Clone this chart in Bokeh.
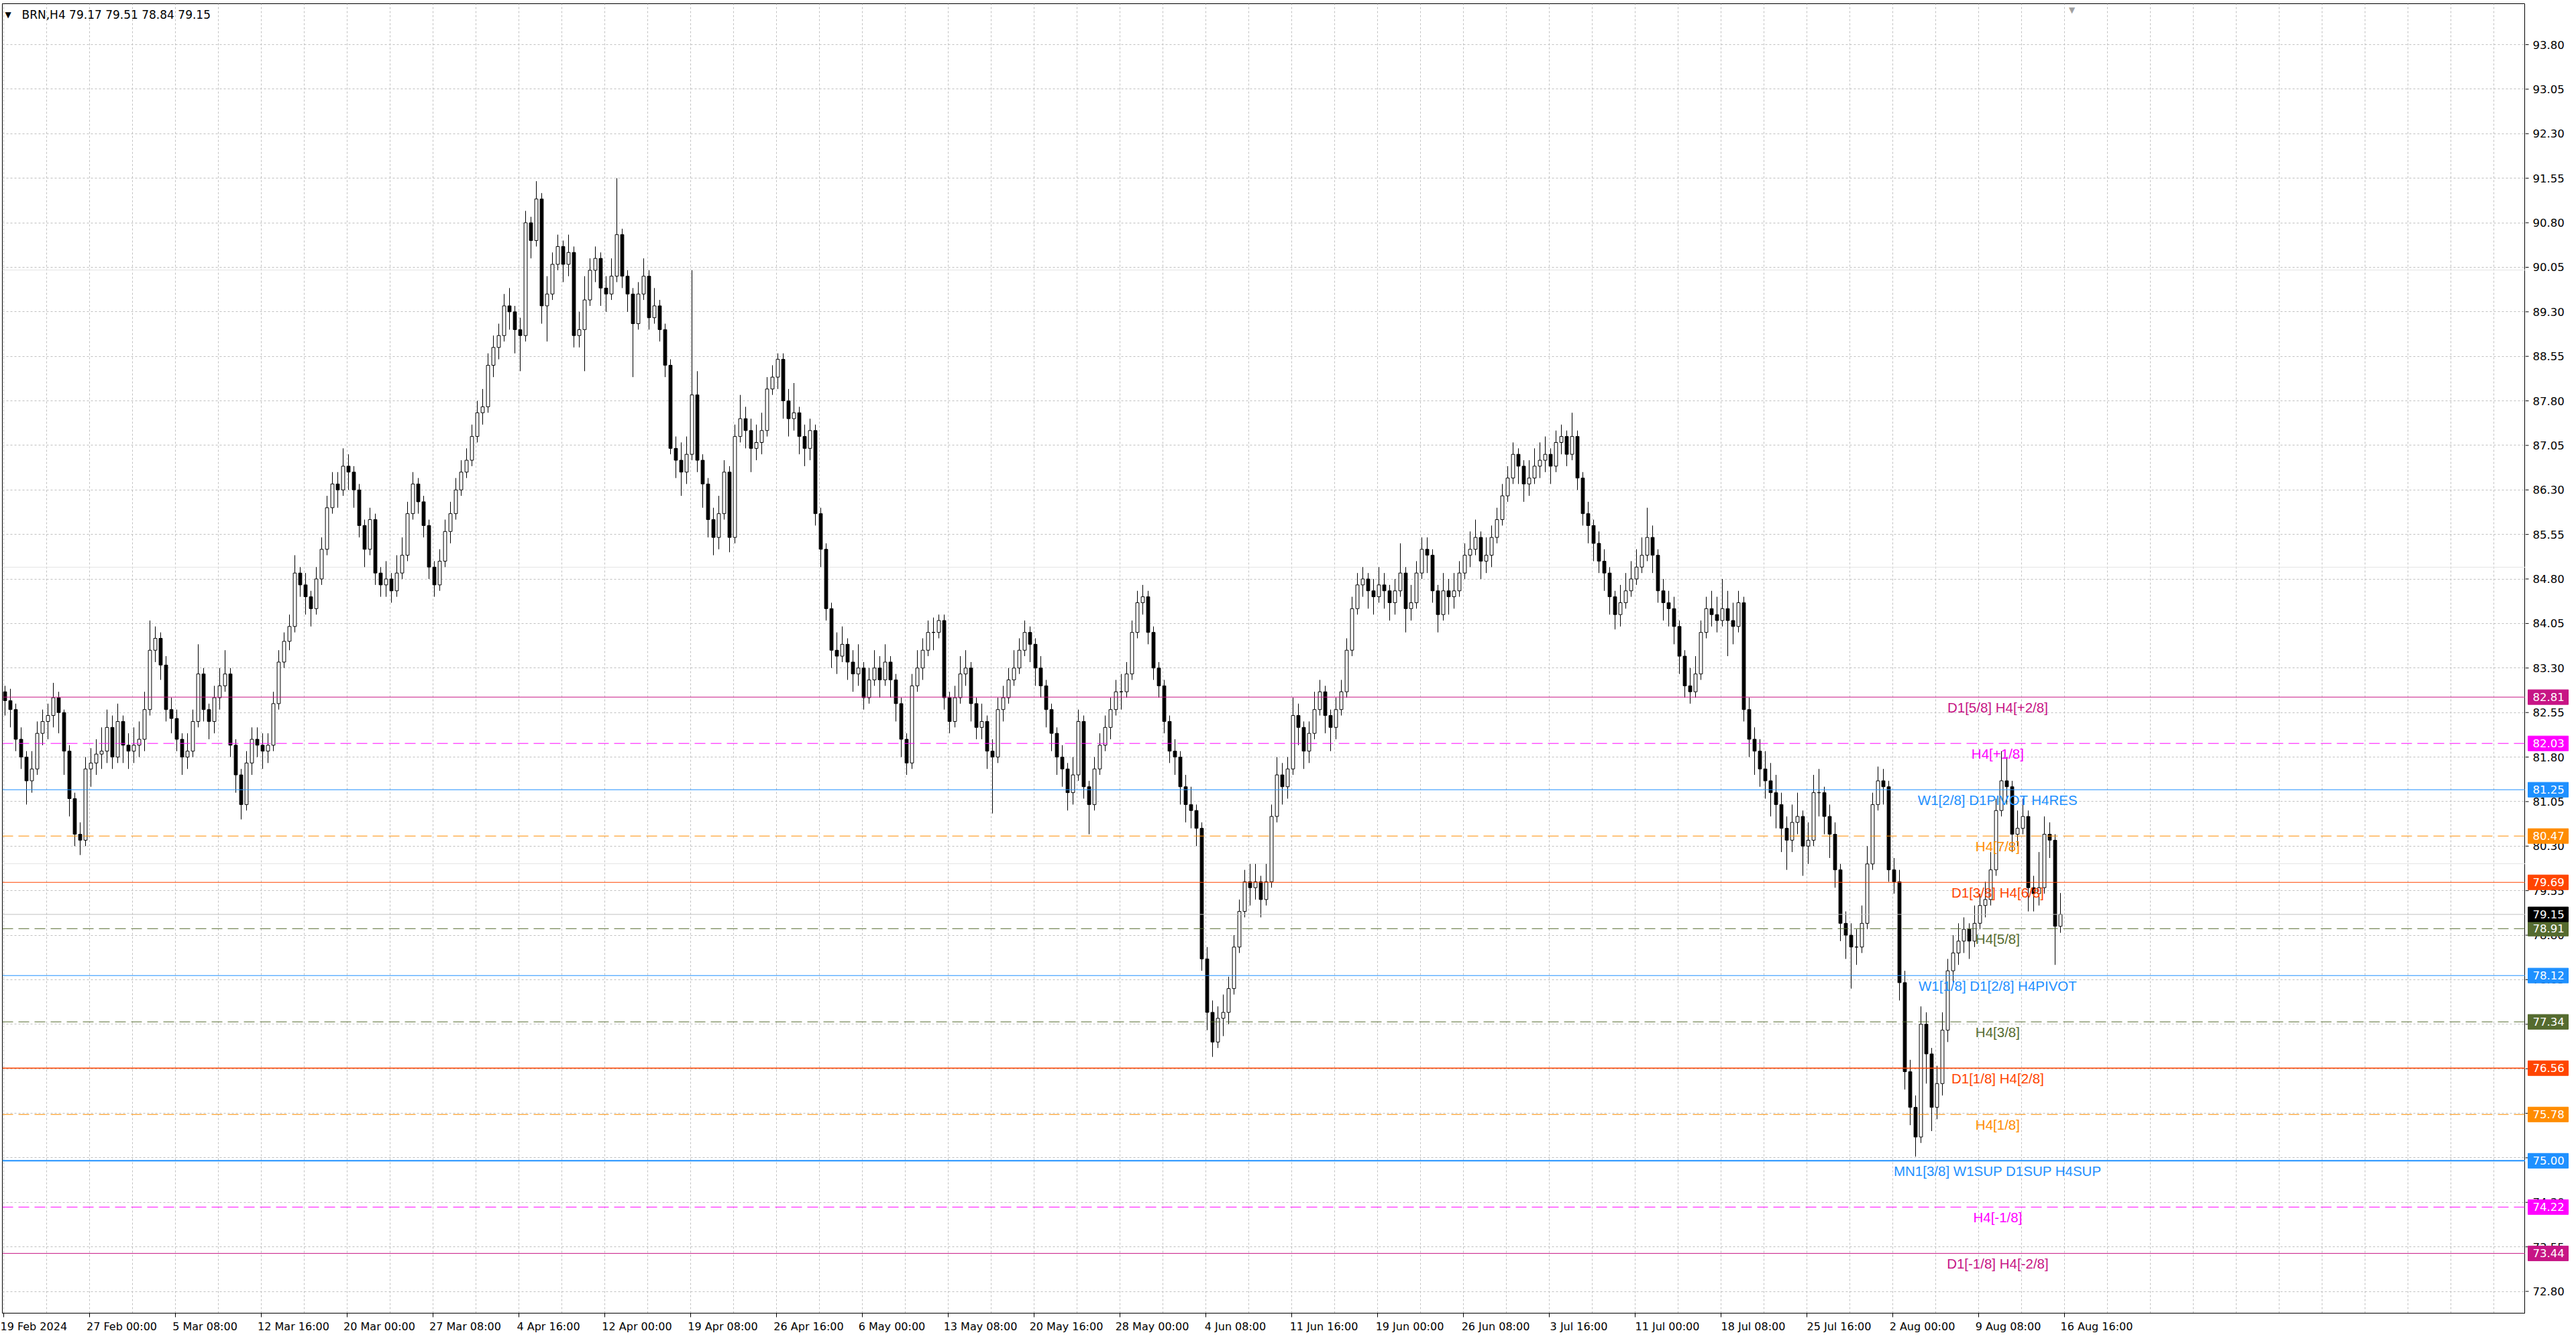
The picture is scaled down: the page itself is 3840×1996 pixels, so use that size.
from bokeh.plotting import figure
from bokeh.layouts import row
from bokeh.models import ColumnDataSource, FixedTicker, Span, Label, Range1d, Grid
from bokeh.core.properties import value
from bokeh.embed import file_html
from bokeh.resources import INLINE

# ---------------- data (BRN, H4, one candle = 2 H4 bars) ----------------
first_open = 83.0
close = [
 82.9, 82.75, 82.6, 82.1, 81.8, 81.4, 81.6, 82.2, 82.4, 82.5,
 82.8, 82.55, 81.9, 81.1, 80.5, 80.4, 81.6, 81.7, 81.85, 81.9,
 82.3, 81.8, 82.4, 82.0, 81.9, 82.0, 82.1, 82.6, 83.6, 83.8,
 83.35, 82.6, 82.45, 82.1, 81.8, 81.9, 82.4, 83.2, 82.6, 82.4,
 82.8, 83.0, 83.2, 82.0, 81.5, 81.0, 81.7, 82.1, 82.0, 81.9,
 82.0, 82.7, 83.4, 83.75, 84.0, 84.9, 84.7, 84.5, 84.3, 84.8,
 85.3, 86.0, 86.4, 86.3, 86.7, 86.6, 86.3, 85.7, 85.3, 85.8,
 84.9, 84.7, 84.8, 84.6, 84.9, 85.2, 85.9, 86.4, 86.1, 85.7,
 85.0, 84.7, 85.1, 85.6, 85.9, 86.3, 86.6, 86.8, 87.2, 87.6,
 87.7, 88.4, 88.7, 88.9, 89.4, 89.3, 89.0, 88.9, 90.8, 90.5,
 91.2, 89.4, 89.6, 90.1, 90.4, 90.1, 90.3, 88.9, 89.0, 89.5,
 90.0, 90.2, 89.7, 89.6, 89.9, 90.6, 89.9, 89.6, 89.1, 89.6,
 89.9, 89.2, 89.4, 89.0, 88.4, 87.0, 86.8, 86.6, 86.9, 87.9,
 86.8, 86.4, 85.8, 85.5, 85.9, 86.6, 85.5, 87.2, 87.5, 87.3,
 87.0, 87.1, 87.3, 88.0, 88.2, 88.5, 87.8, 87.5, 87.6, 87.2,
 87.0, 87.3, 85.9, 85.3, 84.3, 83.6, 83.5, 83.7, 83.4, 83.2,
 83.3, 82.8, 83.1, 83.3, 83.1, 83.4, 83.1, 82.7, 82.1, 81.7,
 83.0, 83.3, 83.6, 83.9, 83.9, 84.1, 82.8, 82.4, 82.8, 83.2,
 83.3, 82.7, 82.3, 82.4, 81.9, 81.8, 82.6, 82.8, 83.1, 83.3,
 83.6, 83.9, 83.7, 83.3, 83.0, 82.6, 82.2, 81.8, 81.6, 81.2,
 81.5, 82.4, 81.3, 81.0, 81.6, 82.0, 82.3, 82.6, 82.9, 82.9,
 83.2, 83.9, 84.4, 84.5, 83.9, 83.3, 83.0, 82.4, 81.9, 81.8,
 81.3, 81.0, 80.9, 80.6, 78.4, 77.5, 77.0, 77.4, 77.5, 77.9,
 78.6, 79.2, 79.7, 79.6, 79.7, 79.4, 79.7, 80.8, 81.5, 81.3,
 81.6, 82.5, 82.3, 81.9, 82.2, 82.6, 82.9, 82.5, 82.3, 82.6,
 82.9, 83.6, 84.3, 84.7, 84.8, 84.6, 84.5, 84.7, 84.6, 84.4,
 84.6, 84.9, 84.3, 84.4, 84.9, 85.3, 85.2, 84.6, 84.2, 84.6,
 84.5, 84.6, 84.9, 85.2, 85.3, 85.5, 85.1, 85.2, 85.5, 85.8,
 86.2, 86.5, 86.9, 86.7, 86.4, 86.5, 86.7, 86.8, 86.9, 86.7,
 87.1, 87.2, 86.9, 87.2, 86.5, 85.9, 85.7, 85.4, 85.1, 84.9,
 84.5, 84.2, 84.4, 84.6, 84.8, 85.0, 85.2, 85.5, 85.2, 84.6,
 84.4, 84.3, 84.0, 83.5, 83.0, 82.9, 83.2, 83.9, 84.3, 84.2,
 84.1, 84.3, 84.1, 84.0, 84.4, 82.6, 82.1, 81.9, 81.6, 81.4,
 81.2, 81.0, 80.6, 80.4, 80.7, 80.8, 80.3, 80.4, 81.2, 81.2,
 80.8, 80.5, 79.9, 79.0, 78.8, 78.6, 78.6, 79.0, 80.0, 81.0,
 81.4, 81.3, 79.9, 79.7, 78.0, 76.5, 75.9, 75.4, 77.3, 76.8,
 75.9, 76.3, 77.2, 78.2, 78.5, 78.7, 78.9, 78.7, 79.0, 79.3,
 79.4, 79.9, 80.9, 81.4, 81.3, 80.5, 80.6, 80.8, 79.6, 79.5,
 79.6, 80.5, 80.4, 78.95, 79.15,
]
high = [
 83.2, 83.0, 82.95, 82.7, 82.3, 81.9, 81.9, 82.4, 82.6, 82.7,
 83.05, 82.9, 82.6, 82.0, 81.2, 80.7, 81.8, 81.95, 82.1, 82.3,
 82.6, 82.5, 82.7, 82.5, 82.2, 82.3, 82.4, 82.9, 84.1, 84.0,
 83.9, 83.5, 82.8, 82.6, 82.2, 82.2, 82.6, 83.7, 83.3, 82.7,
 83.0, 83.3, 83.6, 83.3, 82.1, 81.6, 81.9, 82.3, 82.3, 82.2,
 82.2, 82.9, 83.6, 83.9, 84.2, 85.2, 85.0, 84.9, 84.6, 85.0,
 85.5, 86.2, 86.6, 86.6, 87.0, 86.9, 86.7, 86.4, 85.8, 86.0,
 85.9, 85.0, 85.1, 84.9, 85.2, 85.5, 86.1, 86.6, 86.5, 86.2,
 85.8, 85.1, 85.3, 85.8, 86.1, 86.5, 86.8, 87.0, 87.4, 87.8,
 88.0, 88.6, 88.9, 89.1, 89.6, 89.7, 89.4, 89.2, 91.0, 90.9,
 91.5, 91.3, 89.9, 90.3, 90.6, 90.5, 90.6, 90.4, 89.3, 89.9,
 90.2, 90.4, 90.3, 89.9, 90.2, 91.55, 90.7, 90.0, 89.7, 89.8,
 90.2, 90.0, 89.7, 89.5, 89.1, 88.5, 87.2, 87.1, 87.2, 90.0,
 88.3, 86.9, 86.5, 86.0, 86.2, 86.8, 86.7, 87.4, 87.9, 87.7,
 87.5, 87.4, 87.6, 88.2, 88.4, 88.6, 88.6, 88.0, 88.1, 87.7,
 87.4, 87.5, 87.4, 86.0, 85.4, 84.4, 83.9, 84.0, 83.8, 83.6,
 83.7, 83.4, 83.3, 83.6, 83.5, 83.7, 83.5, 83.2, 82.8, 82.2,
 83.2, 83.6, 83.8, 84.1, 84.15, 84.2, 84.2, 82.9, 83.0, 83.5,
 83.6, 83.4, 82.8, 82.7, 82.5, 82.1, 82.8, 83.0, 83.3, 83.6,
 83.8, 84.1, 84.0, 83.8, 83.5, 83.1, 82.7, 82.3, 82.0, 81.7,
 81.8, 82.6, 82.5, 81.4, 81.8, 82.2, 82.5, 82.8, 83.1, 83.2,
 83.4, 84.1, 84.6, 84.7, 84.6, 84.0, 83.4, 83.1, 82.5, 82.1,
 81.9, 81.5, 81.3, 81.0, 80.7, 78.6, 77.7, 77.6, 77.8, 78.1,
 78.8, 79.4, 79.9, 80.0, 80.0, 79.8, 80.0, 81.0, 81.8, 81.7,
 81.8, 82.8, 82.7, 82.4, 82.4, 82.9, 83.1, 83.0, 82.6, 82.8,
 83.1, 83.8, 84.5, 84.9, 85.0, 84.9, 84.8, 85.0, 84.9, 84.7,
 84.8, 85.4, 85.0, 84.7, 85.1, 85.5, 85.5, 85.3, 84.7, 84.9,
 84.8, 84.9, 85.1, 85.4, 85.6, 85.8, 85.6, 85.5, 85.7, 86.0,
 86.4, 86.7, 87.1, 87.0, 86.8, 86.8, 87.0, 87.1, 87.2, 87.0,
 87.3, 87.4, 87.3, 87.6, 87.3, 86.6, 86.1, 85.8, 85.6, 85.3,
 85.0, 84.6, 84.7, 84.9, 85.1, 85.3, 85.5, 86.0, 85.7, 85.3,
 84.8, 84.6, 84.5, 84.1, 83.6, 83.3, 83.5, 84.1, 84.5, 84.6,
 84.5, 84.8, 84.6, 84.4, 84.6, 84.5, 82.8, 82.3, 82.1, 81.9,
 81.7, 81.5, 81.2, 80.8, 81.0, 81.2, 80.9, 80.7, 81.5, 81.6,
 81.3, 81.0, 80.7, 80.0, 79.2, 79.0, 78.9, 79.3, 80.3, 81.2,
 81.64, 81.6, 81.4, 80.1, 79.9, 78.2, 76.7, 76.1, 77.6, 77.5,
 76.9, 76.6, 77.5, 78.4, 78.8, 79.0, 79.1, 79.0, 79.3, 79.5,
 79.7, 80.2, 81.1, 81.9, 81.8, 81.4, 80.9, 81.1, 80.9, 79.8,
 80.2, 80.8, 80.7, 80.5, 79.51,
]
low = [
 82.7, 82.5, 82.3, 81.9, 81.6, 81.0, 81.2, 81.5, 82.0, 82.1,
 82.3, 82.2, 81.5, 80.8, 80.3, 80.15, 80.3, 81.3, 81.5, 81.6,
 81.7, 81.6, 81.7, 81.7, 81.6, 81.7, 81.8, 81.9, 82.5, 83.4,
 83.1, 82.4, 82.2, 81.9, 81.5, 81.6, 81.8, 82.3, 82.4, 82.1,
 82.2, 82.6, 82.9, 81.8, 81.2, 80.75, 80.9, 81.5, 81.8, 81.6,
 81.7, 81.9, 82.6, 83.3, 83.6, 83.9, 84.5, 84.2, 84.0, 84.2,
 84.7, 85.2, 85.9, 86.0, 86.2, 86.3, 86.0, 85.5, 85.0, 85.2,
 84.7, 84.5, 84.5, 84.4, 84.5, 84.8, 85.1, 85.8, 85.9, 85.5,
 84.8, 84.5, 84.6, 85.0, 85.4, 85.8, 86.2, 86.5, 86.7, 87.1,
 87.4, 87.6, 88.2, 88.5, 88.8, 89.0, 88.6, 88.3, 88.8, 90.2,
 90.4, 89.1, 88.8, 89.5, 90.0, 89.8, 89.9, 88.7, 88.7, 88.3,
 89.4, 89.8, 89.4, 89.3, 89.5, 89.8, 89.7, 89.3, 88.2, 89.0,
 89.5, 89.0, 89.1, 88.8, 88.2, 86.9, 86.5, 86.2, 86.4, 86.8,
 86.6, 86.0, 85.5, 85.2, 85.3, 85.8, 85.25, 85.4, 87.1, 87.0,
 86.6, 86.8, 86.9, 87.2, 87.9, 88.0, 87.5, 87.2, 87.3, 86.9,
 86.7, 86.8, 85.7, 85.0, 84.1, 83.3, 83.2, 83.4, 83.1, 82.9,
 83.0, 82.6, 82.7, 83.0, 82.8, 83.0, 82.8, 82.4, 81.8, 81.5,
 81.6, 82.9, 83.1, 83.5, 83.6, 83.8, 82.6, 82.2, 82.3, 82.7,
 83.0, 82.4, 82.1, 82.1, 81.6, 80.85, 81.7, 82.4, 82.7, 83.0,
 83.2, 83.5, 83.4, 83.0, 82.8, 82.3, 81.9, 81.5, 81.3, 80.9,
 81.0, 81.4, 81.1, 80.5, 80.9, 81.5, 81.9, 82.1, 82.5, 82.6,
 82.8, 83.1, 83.8, 84.2, 83.7, 83.1, 82.8, 82.2, 81.7, 81.5,
 81.0, 80.7, 80.6, 80.3, 78.2, 77.2, 76.75, 76.9, 77.1, 77.3,
 77.8, 78.5, 79.1, 79.3, 79.4, 79.1, 79.3, 79.6, 80.7, 81.0,
 81.1, 81.5, 82.0, 81.6, 81.7, 82.1, 82.5, 82.2, 81.9, 82.1,
 82.5, 82.8, 83.5, 84.2, 84.5, 84.3, 84.2, 84.4, 84.3, 84.1,
 84.2, 84.5, 83.9, 84.1, 84.3, 84.8, 84.9, 84.4, 83.9, 84.1,
 84.2, 84.3, 84.5, 84.8, 85.0, 85.2, 84.8, 84.9, 85.0, 85.4,
 85.7, 86.1, 86.4, 86.4, 86.1, 86.2, 86.4, 86.5, 86.6, 86.4,
 86.6, 86.9, 86.7, 86.8, 86.3, 85.7, 85.4, 85.1, 84.9, 84.6,
 84.2, 83.95, 84.0, 84.3, 84.5, 84.7, 84.9, 85.1, 84.9, 84.4,
 84.1, 84.0, 83.7, 83.2, 82.8, 82.7, 82.8, 83.1, 83.8, 84.0,
 83.9, 84.0, 83.5, 83.7, 83.9, 82.4, 81.8, 81.5, 81.3, 81.1,
 80.8, 80.6, 80.2, 79.9, 80.2, 80.5, 79.8, 80.0, 80.3, 80.8,
 80.5, 80.1, 79.6, 78.7, 78.4, 77.9, 78.3, 78.5, 78.9, 79.9,
 80.9, 81.0, 79.7, 79.5, 77.7, 76.2, 75.6, 75.07, 75.3, 76.3,
 75.5, 75.7, 76.1, 77.0, 78.0, 78.3, 78.5, 78.4, 78.6, 78.9,
 79.1, 79.3, 79.8, 80.8, 81.0, 80.2, 80.3, 80.5, 79.2, 79.2,
 79.3, 79.5, 80.1, 78.3, 78.84,
]

date_labels = ["19 Feb 2024", "27 Feb 00:00", "5 Mar 08:00", "12 Mar 16:00", "20 Mar 00:00",
               "27 Mar 08:00", "4 Apr 16:00", "12 Apr 00:00", "19 Apr 08:00", "26 Apr 16:00",
               "6 May 00:00", "13 May 08:00", "20 May 16:00", "28 May 00:00", "4 Jun 08:00",
               "11 Jun 16:00", "19 Jun 00:00", "26 Jun 08:00", "3 Jul 16:00", "11 Jul 00:00",
               "18 Jul 08:00", "25 Jul 16:00", "2 Aug 00:00", "9 Aug 08:00", "16 Aug 16:00"]

levels = [82.81, 82.03, 81.25, 80.47, 79.69, 78.91, 78.12, 77.34, 76.56, 75.78, 75.00, 74.22, 73.44]
level_names = ["D1[5/8] H4[+2/8]", "H4[+1/8]", "W1[2/8] D1PIVOT H4RES", "H4[7/8]",
               "D1[3/8] H4[6/8]", "H4[5/8]", "W1[1/8] D1[2/8] H4PIVOT", "H4[3/8]",
               "D1[1/8] H4[2/8]", "H4[1/8]", "MN1[3/8] W1SUP D1SUP H4SUP", "H4[-1/8]",
               "D1[-1/8] H4[-2/8]"]
level_colors = ["#C71585", "#FF00FF", "#1E90FF", "#FF8C00", "#FF4500", "#556B2F", "#1E90FF",
                "#556B2F", "#FF4500", "#FF8C00", "#1E90FF", "#FF00FF", "#C71585"]
level_dashed = [False, True, False, True, False, True, False, True, False, True, False, True, False]
level_width = [1, 1, 1, 1, 1, 1, 1, 1, 1.5, 1, 2, 1, 1]

last_price = 79.15
header = "BRN,H4  79.17 79.51 78.84 79.15"
y_ticks = [round(72.80 + 0.75 * i, 2) for i in range(29)]

# ---------------- main chart ----------------
n = min(len(close), len(high), len(low))
close, high, low = close[:n], high[:n], low[:n]
opn = [first_open] + close[:-1]
xs = list(range(n))
up = [c >= o for o, c in zip(opn, close)]
src = ColumnDataSource(dict(
    x=xs, top=[max(o, c) for o, c in zip(opn, close)], bottom=[min(o, c) for o, c in zip(opn, close)],
    high=high, low=low, fill=["white" if u else "black" for u in up]))

FW, FH = 3761, 1952
X0 = 0.5
yr = Range1d(72.433, 94.49)
p = figure(frame_width=FW, frame_height=FH, x_range=Range1d(X0, X0 + FW / 8.0),
           y_range=yr, output_backend="svg", toolbar_location=None,
           min_border_left=3, min_border_top=5, min_border_right=0, min_border_bottom=0,
           y_axis_location=None, background_fill_color="white", border_fill_color="white")
p.outline_line_color = "black"
p.outline_line_width = 1

# grid
p.xgrid.ticker = FixedTicker(ticks=[8 * i + 0.75 for i in range(60)])
p.xgrid.grid_line_color = "#C0C0C0"
p.xgrid.grid_line_dash = "3 3"
p.add_layout(Grid(dimension=1, ticker=FixedTicker(ticks=y_ticks), grid_line_color="#C0C0C0",
                  grid_line_dash="3 3"))

# x axis: labels start at their tick mark
xa = p.xaxis[0]
centers = [round(16 * i + 0.75 + len(s) * 0.5, 2) for i, s in enumerate(date_labels)]
xa.ticker = FixedTicker(ticks=centers, minor_ticks=[16 * i + 0.75 for i in range(len(date_labels))])
xa.major_label_overrides = {c: s for c, s in zip(centers, date_labels)}
xa.major_tick_out = 0
xa.major_tick_in = 0
xa.minor_tick_out = 6
xa.minor_tick_in = 0
xa.minor_tick_line_color = "black"
xa.axis_line_color = "black"
xa.major_label_text_font = "DejaVu Sans"
xa.major_label_text_font_size = "16px"
xa.major_label_text_color = "black"
xa.major_label_standoff = 4

# level lines
for lv, col, dsh, w in zip(levels, level_colors, level_dashed, level_width):
    p.add_layout(Span(location=lv, dimension="width", line_color=col, line_width=w,
                      line_dash="16 8" if dsh else "solid"))
p.add_layout(Span(location=last_price, dimension="width", line_color="#C0C0C0", line_width=1))

# candles
p.segment(x0="x", y0="low", x1="x", y1="high", source=src, line_color="black", line_width=1)
p.vbar(x="x", width=0.6, top="top", bottom="bottom", source=src, fill_color="fill",
       line_color="black", line_width=1)

# level captions
lab_src = ColumnDataSource(dict(x=[372.3] * len(levels), y=levels, t=level_names, c=level_colors))
p.text(x="x", y="y", text="t", source=lab_src, text_color="c", text_align="center",
       text_baseline="top", y_offset=4, text_font=value("Liberation Sans"), text_font_size="20.5px")

# header
p.add_layout(Label(x=4, y=FH - 16, x_units="screen", y_units="screen", text="\u25BC",
                   text_font="DejaVu Sans", text_font_size="12px", text_color="black",
                   text_baseline="middle"))
p.add_layout(Label(x=29, y=FH - 16, x_units="screen", y_units="screen", text=header,
                   text_font="DejaVu Sans", text_font_size="17px", text_color="black",
                   text_baseline="middle"))
p.add_layout(Label(x=3085, y=FH - 2, x_units="screen", y_units="screen", text="\u25BC",
                   text_font="DejaVu Sans", text_font_size="12px", text_color="#A0A0A0",
                   text_baseline="top", text_align="center"))

# ---------------- right price scale ----------------
r = figure(frame_width=70, frame_height=FH, x_range=Range1d(0, 70), y_range=yr,
           output_backend="svg", toolbar_location=None, x_axis_location=None,
           y_axis_location=None, min_border_left=0, min_border_top=5, min_border_right=0,
           min_border_bottom=0, background_fill_color="white", border_fill_color="white")
r.outline_line_color = None
r.grid.visible = False
tick_src = ColumnDataSource(dict(y=y_ticks, t=[f"{v:.2f}" for v in y_ticks]))
r.segment(x0=0, y0="y", x1=5, y1="y", source=tick_src, line_color="black", line_width=1)
r.text(x=11, y="y", text="t", source=tick_src, text_color="black", text_baseline="middle",
       text_align="left", text_font=value("DejaVu Sans"), text_font_size="16.5px")
tag_vals = levels + [last_price]
tag_src = ColumnDataSource(dict(y=tag_vals, t=[f"{v:.2f}" for v in tag_vals],
                                c=level_colors + ["black"]))
r.rect(x=34, y="y", width=60, height=22, height_units="screen", source=tag_src,
       fill_color="c", line_color="c")
r.text(x=11, y="y", text="t", source=tag_src, text_color="white", text_baseline="middle",
       text_align="left", text_font=value("DejaVu Sans"), text_font_size="16.5px")

layout = row(p, r, spacing=0)
open("out.html", "w").write(file_html(layout, INLINE))
